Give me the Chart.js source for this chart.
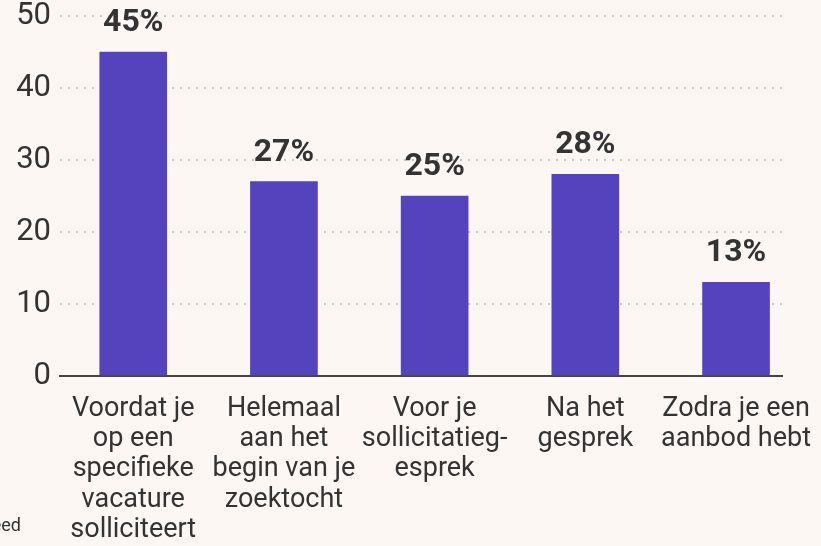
<!DOCTYPE html>
<html lang="nl">
<head>
  <meta charset="UTF-8">
  <title>Wanneer begin je met onderhandelen?</title>
  <script src="https://cdn.jsdelivr.net/npm/chart.js"></script>
  <style>
    html, body {
      margin: 0;
      padding: 0;
      background: #fcf7f3;
    }
    .chart-container {
      position: relative;
      width: 821px;
      height: 546px;
    }
  </style>
</head>
<body>

<div class="chart-container">
  <canvas id="momentChart"></canvas>
</div>

<script>
const categories = [
  ["Voordat je", "op een", "specifieke", "vacature", "solliciteert"],
  ["Helemaal", "aan het", "begin van je", "zoektocht"],
  ["Voor je", "sollicitatieg-", "esprek"],
  ["Na het", "gesprek"],
  ["Zodra je een", "aanbod hebt"]
];
const percentages = [45, 27, 25, 28, 13];
const yTicks = [0, 10, 20, 30, 40, 50];
const sourceText = "Bron: Indeed";

const textColor = "#333333";
const barColor = "#5443bd";

// percentage above each bar
const valueLabels = {
  id: "valueLabels",
  afterDatasetsDraw(chart) {
    const ctx = chart.ctx;
    const meta = chart.getDatasetMeta(0);
    ctx.save();
    ctx.font = "bold 32px Roboto";
    ctx.fillStyle = textColor;
    ctx.textAlign = "center";
    ctx.textBaseline = "alphabetic";
    meta.data.forEach((bar, i) => {
      ctx.fillText(percentages[i] + "%", bar.x, bar.y - 21);
    });
    ctx.restore();
  }
};

// source line, mostly running off the left edge
const sourceNote = {
  id: "sourceNote",
  afterDraw(chart) {
    const ctx = chart.ctx;
    ctx.save();
    ctx.font = "18px Roboto";
    ctx.fillStyle = textColor;
    ctx.textAlign = "right";
    ctx.textBaseline = "alphabetic";
    ctx.fillText(sourceText, 21, 531);
    ctx.restore();
  }
};

new Chart(document.getElementById("momentChart"), {
  type: "bar",
  data: {
    datasets: [{
      data: percentages.map((v, i) => ({ x: i, y: v })),
      backgroundColor: barColor,
      barThickness: 67
    }]
  },
  plugins: [valueLabels, sourceNote],
  options: {
    responsive: true,
    maintainAspectRatio: false,
    animation: false,
    layout: {
      padding: { top: 0, right: 39, bottom: 0, left: 0 }
    },
    plugins: {
      legend: { display: false },
      tooltip: { enabled: false }
    },
    scales: {
      x: {
        type: "linear",
        offset: false,
        min: -0.486,
        max: 4.305,
        afterBuildTicks: scale => {
          scale.ticks = categories.map((_, i) => ({ value: i }));
        },
        afterFit: scale => {
          scale.height = 170;
          scale.paddingLeft = 0;
          scale.paddingRight = 0;
        },
        grid: { display: false, drawTicks: false, offset: false },
        border: { display: true, color: "#444444", width: 2 },
        ticks: {
          callback: v => categories[v],
          autoSkip: false,
          maxRotation: 0,
          padding: 18,
          color: textColor,
          font: { family: "Roboto", size: 27, lineHeight: 1.12 }
        }
      },
      y: {
        min: 0,
        max: 50,
        afterBuildTicks: scale => {
          scale.ticks = yTicks.map(v => ({ value: v }));
        },
        afterFit: scale => {
          scale.width = 60;
          scale.paddingTop = 16;
        },
        grid: {
          color: "#c6c3c0",
          lineWidth: 2,
          drawTicks: false
        },
        border: { display: false, dash: [2, 6] },
        ticks: {
          padding: 9,
          color: textColor,
          font: { family: "Roboto", size: 31 }
        }
      }
    }
  }
});
</script>

</body>
</html>
